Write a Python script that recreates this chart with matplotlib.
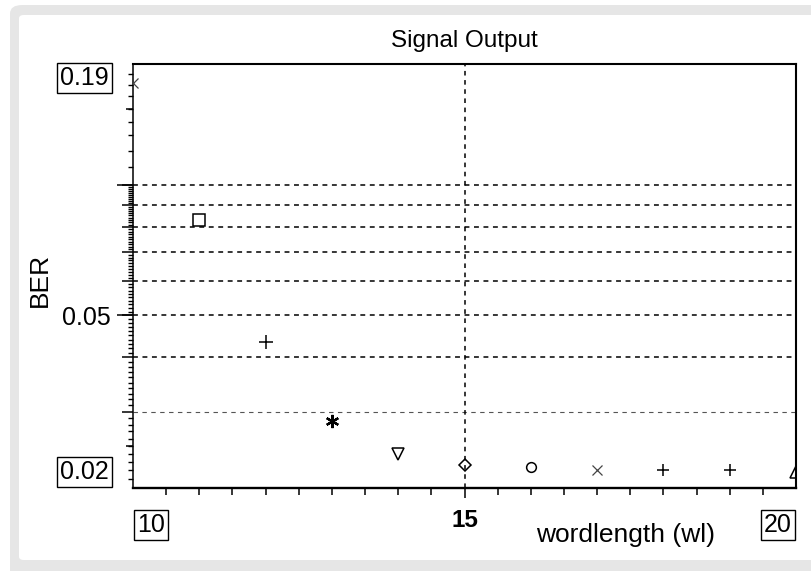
import numpy as np
import matplotlib
matplotlib.use("Agg")
import matplotlib.pyplot as plt
from matplotlib.patches import FancyBboxPatch
from matplotlib.ticker import FixedLocator, NullFormatter

plt.rcParams["font.family"] = ["Liberation Sans", "DejaVu Sans"]

# ---- data ----
wordlength = [10, 11, 12, 13, 14, 15, 16, 17, 18, 19, 20]
ber = [0.172, 0.0829, 0.0434, 0.0286, 0.0240, 0.0226, 0.0223, 0.0220, 0.0220, 0.0220, 0.0218]
markers = ["x", "s", "+", (6, 2, 0), "v", "D", "o", "x", "+", "+", "^"]
msizes = [6.5, 8, 10, 9.5, 8, 6, 7, 6.5, 9, 9, 8]
grid_black = [0.04, 0.05, 0.06, 0.07, 0.08, 0.09, 0.1]
grid_gray = [0.03]
vline_x = 15

W, H = 812, 571
fig = plt.figure(figsize=(W / 100, H / 100), dpi=100)
fig.patch.set_facecolor("white")

# grey rounded frame with white panel
fig.patches.append(FancyBboxPatch((10 / W, -0.02), 1.05, 0.9912 + 0.02, boxstyle="round,pad=0,rounding_size=0.015",
                                  transform=fig.transFigure, facecolor="#e6e6e6", edgecolor="none", zorder=-10))
fig.patches.append(FancyBboxPatch((19 / W, 11 / H), 1.05, (556 - 11) / H, boxstyle="round,pad=0,rounding_size=0.006",
                                  transform=fig.transFigure, facecolor="white", edgecolor="none", zorder=-9))

ax = fig.add_axes([133 / W, (H - 488) / H, (796 - 133) / W, (488 - 64) / H])
ax.set_facecolor("none")
ax.set_zorder(2)
ax.set_yscale("log")
ax.set_xlim(10, 20)
ax.set_ylim(0.02, 0.19)

# dashed reference lines
for v in grid_black:
    ax.axhline(v, color="black", lw=1.1, dashes=(3.2, 3.0), zorder=1)
for v in grid_gray:
    ax.axhline(v, color="#555555", lw=0.8, dashes=(4.0, 4.0), zorder=1)
ax.axvline(vline_x, color="black", lw=1.1, dashes=(3.0, 3.0), zorder=1)

# points
for x, y, m, s in zip(wordlength, ber, markers, msizes):
    thin = m == "x"
    heavy = isinstance(m, tuple)
    ax.plot(x, y, linestyle="none", marker=m, ms=s, mfc="none",
            mec="#444444" if thin else "black", mew=0.9 if thin else (1.6 if heavy else 1.1), zorder=3)

# spines
for side, lw in [("left", 1.1), ("bottom", 1.7), ("top", 1.5), ("right", 1.5)]:
    ax.spines[side].set_linewidth(lw)

# y ticks
minor_y = np.concatenate([np.arange(0.021, 0.1, 0.001), np.arange(0.11, 0.185, 0.01)])
ax.yaxis.set_major_locator(FixedLocator(grid_black + grid_gray))
ax.set_yticklabels(["", "0.05", "", "", "", "", "", ""])
ax.yaxis.set_minor_locator(FixedLocator(minor_y))
ax.yaxis.set_minor_formatter(NullFormatter())
ax.tick_params(axis="y", which="major", length=8, width=1.1, direction="out", labelsize=18, pad=8)
ax.tick_params(axis="y", which="minor", length=3.6, width=1.0, direction="out")

for ticks, ln in [([0.05, 0.1], 11.5), ([0.025, 0.15], 5)]:
    sec = ax.secondary_yaxis("left")
    sec.set_yticks(ticks)
    sec.yaxis.set_minor_locator(FixedLocator([]))
    sec.set_yticklabels([])
    sec.tick_params(axis="y", which="major", length=ln, width=1.1, direction="out")
    for sp in sec.spines.values():
        sp.set_visible(False)

# x ticks
ax.xaxis.set_major_locator(FixedLocator([15]))
ax.set_xticklabels(["15"], fontsize=17.5, fontweight="bold")
ax.xaxis.set_minor_locator(FixedLocator(np.arange(10.5, 20, 0.5)))
ax.tick_params(axis="x", which="major", length=7, width=1.1, direction="out", pad=8)
ax.tick_params(axis="x", which="minor", length=5, width=1.1, direction="out")

box = dict(boxstyle="square,pad=0.12", fc="white", ec="black", lw=1.0)
ax.annotate("0.19", xy=(0, 1), xycoords="axes fraction", xytext=(-17.5, -1.6), textcoords="offset points",
            ha="right", va="top", fontsize=18, bbox=box)
ax.annotate("0.02", xy=(0, 0), xycoords="axes fraction", xytext=(-17.5, 2.8), textcoords="offset points",
            ha="right", va="bottom", fontsize=18, bbox=box)
ax.annotate("10", xy=(0, 0), xycoords="axes fraction", xytext=(2.8, -18), textcoords="offset points",
            ha="left", va="top", fontsize=18, bbox=box)
ax.annotate("20", xy=(1, 0), xycoords="axes fraction", xytext=(-2.8, -18), textcoords="offset points",
            ha="right", va="top", fontsize=18, bbox=box)

ax.text(0.7436, -0.112, "wordlength (wl)", transform=ax.transAxes, ha="center", va="center", fontsize=19)
ax.annotate("BER", xy=(0, 0.4917), xycoords="axes fraction", xytext=(-67, 0), textcoords="offset points",
            ha="center", va="center", rotation=90, fontsize=19)
ax.set_title("Signal Output", fontsize=17.5, pad=12)

fig.savefig("out.png", dpi=100)
